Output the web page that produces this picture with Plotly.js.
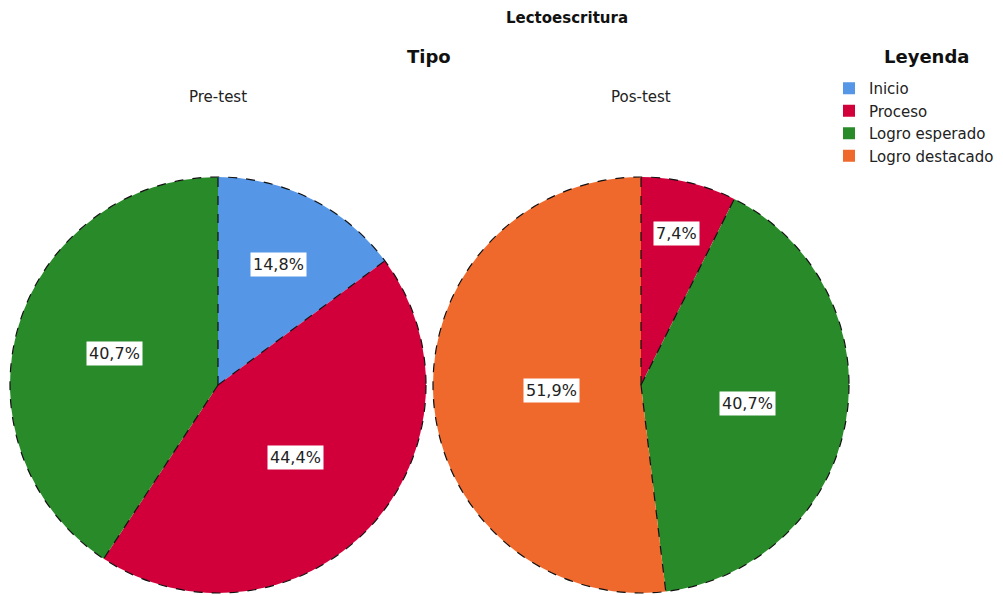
<!DOCTYPE html>
<html>
<head>
<meta charset="utf-8">
<script src="https://cdn.plot.ly/plotly-3.0.1.min.js"></script>
<style>html,body{margin:0;padding:0;background:#fff;}#chart{width:1003px;height:595px;}</style>
</head>
<body>
<div id="chart"></div>
<script>
// ---- data ----
const categories = ["Inicio", "Proceso", "Logro esperado", "Logro destacado"];
const panelNames = ["Pre-test", "Pos-test"];
const preTest = [14.8, 44.4, 40.7, 0];
const posTest = [0, 7.4, 40.7, 51.9];
const chartTitle = "Lectoescritura";
const panelTitle = "Tipo";
const legendTitle = "Leyenda";

// ---- styling ----
const colors = ["#5596E6", "#D2003A", "#298A2A", "#F0692C"];
const W = 1003, H = 595;
const FONT = "DejaVu Sans, Liberation Sans, Arial, sans-serif";
const pies = [
  {cx: 218, cy: 385, r: 208, values: preTest, name: panelNames[0], labelR: [0.65, 0.51, 0.52, 0.5]},
  {cx: 641, cy: 385, r: 208, values: posTest, name: panelNames[1], labelR: [0.5, 0.75, 0.52, 0.43]}
];

const traces = [];
const shapes = [];
const annotations = [];
pies.forEach((p, i) => {
  traces.push({
    type: "pie",
    labels: categories,
    values: p.values,
    sort: false,
    direction: "clockwise",
    rotation: 0,
    textinfo: "none",
    hoverinfo: "none",
    marker: {colors: colors, line: {width: 0}},
    domain: {x: [(p.cx - p.r) / W, (p.cx + p.r) / W], y: [1 - (p.cy + p.r) / H, 1 - (p.cy - p.r) / H]},
    showlegend: i === 0
  });
  // dashed outline
  shapes.push({type: "circle", xref: "paper", yref: "paper",
    x0: (p.cx - p.r) / W, x1: (p.cx + p.r) / W, y0: 1 - (p.cy + p.r) / H, y1: 1 - (p.cy - p.r) / H,
    line: {color: "#111", width: 1.2, dash: "dash"}});
  const total = p.values.reduce((a, b) => a + b, 0);
  let cum = 0;
  p.values.forEach((v, k) => {
    if (v <= 0) return;
    const a0 = cum / total * 2 * Math.PI;
    const am = (cum + v / 2) / total * 2 * Math.PI;
    cum += v;
    shapes.push({type: "line", xref: "paper", yref: "paper",
      x0: p.cx / W, y0: 1 - p.cy / H,
      x1: (p.cx + p.r * Math.sin(a0)) / W, y1: 1 - (p.cy - p.r * Math.cos(a0)) / H,
      line: {color: "#111", width: 1.2, dash: "dash"}});
    const f = p.labelR[k];
    annotations.push({xref: "paper", yref: "paper",
      x: (p.cx + p.r * f * Math.sin(am)) / W, y: 1 - (p.cy - p.r * f * Math.cos(am)) / H,
      text: v.toFixed(1).replace(".", ",") + "%", showarrow: false,
      font: {family: FONT, size: 16, color: "#222"}, bgcolor: "#ffffff", borderpad: 2,
      xanchor: "center", yanchor: "middle"});
  });
  annotations.push({xref: "paper", yref: "paper", x: p.cx / W, y: 1 - 97 / H, text: p.name,
    showarrow: false, font: {family: FONT, size: 15, color: "#222"}, xanchor: "center", yanchor: "middle"});
});
annotations.push({xref: "paper", yref: "paper", x: 567 / W, y: 1 - 18 / H, text: "<b>" + chartTitle + "</b>",
  showarrow: false, font: {family: FONT, size: 15, color: "#111"}, xanchor: "center", yanchor: "middle"});
annotations.push({xref: "paper", yref: "paper", x: 429 / W, y: 1 - 56 / H, text: "<b>" + panelTitle + "</b>",
  showarrow: false, font: {family: FONT, size: 18, color: "#111"}, xanchor: "center", yanchor: "middle"});
annotations.push({xref: "paper", yref: "paper", x: 926 / W, y: 1 - 56 / H, text: "<b>" + legendTitle + "</b>",
  showarrow: false, font: {family: FONT, size: 18, color: "#111"}, xanchor: "center", yanchor: "middle"});

const layout = {
  width: W, height: H,
  margin: {l: 0, r: 0, t: 0, b: 0},
  paper_bgcolor: "#fff",
  showlegend: true,
  legend: {x: 829 / W, y: 1 - 72 / H, xanchor: "left", yanchor: "top",
    font: {family: FONT, size: 15, color: "#222"}, itemwidth: 30, bgcolor: "rgba(0,0,0,0)", traceorder: "normal"},
  shapes: shapes,
  annotations: annotations
};
Plotly.newPlot("chart", traces, layout, {staticPlot: true, displayModeBar: false});
</script>
</body>
</html>
